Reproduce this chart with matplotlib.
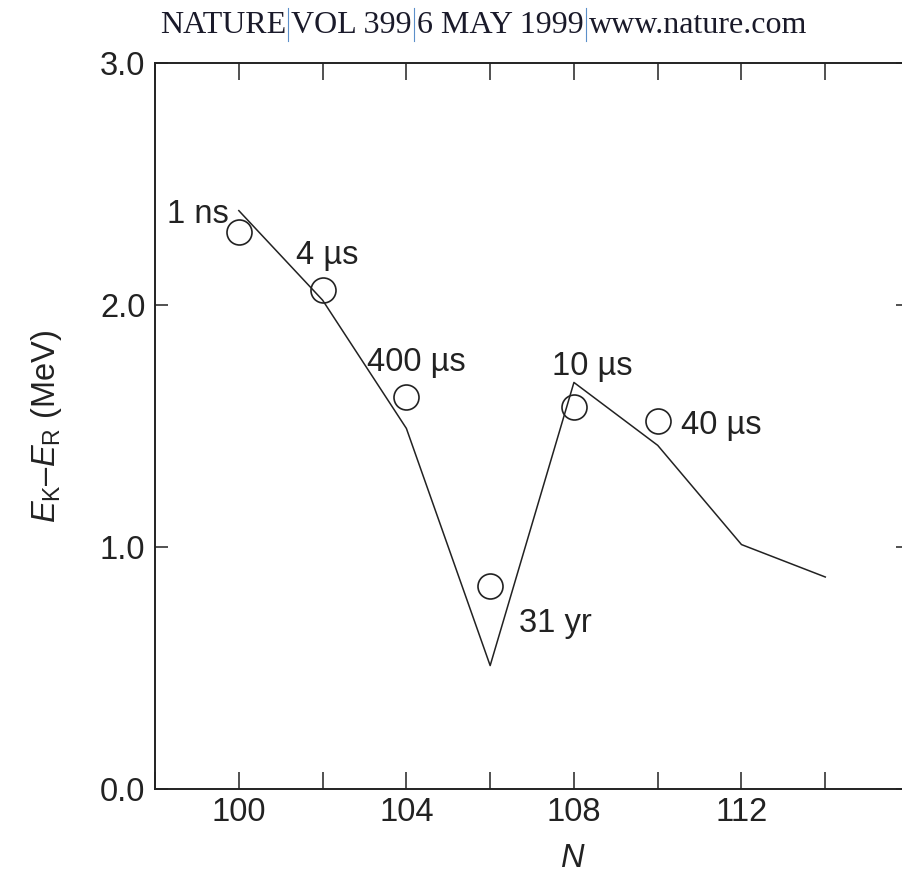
import matplotlib
matplotlib.use("Agg")
import matplotlib.pyplot as plt
from matplotlib.ticker import MultipleLocator, FormatStrFormatter

plt.rcParams['font.family'] = ['Liberation Sans', 'DejaVu Sans']
plt.rcParams['mathtext.fontset'] = 'custom'
plt.rcParams['mathtext.rm'] = 'Liberation Sans'
plt.rcParams['mathtext.it'] = 'Liberation Sans:italic'

# measured points (circles) and calculated curve
n_meas = [100, 102, 104, 106, 108, 110]
e_meas = [2.30, 2.06, 1.62, 0.84, 1.58, 1.52]
half_lives = ['1 ns', '4 µs', '400 µs', '31 yr', '10 µs', '40 µs']

n_calc = [100, 102, 104, 106, 108, 110, 112, 114]
e_calc = [2.39, 2.02, 1.49, 0.51, 1.68, 1.42, 1.01, 0.876]

# label offsets (points) of text baseline-left from each circle
label_offsets = [(-52, 7), (-19, 19), (-28, 19), (21, -33), (-16, 23), (17, -9)]

header_parts = ['NATURE', 'VOL 399', '6 MAY 1999', 'www.nature.com']

ink = '#222222'
fs = 23.5

fig = plt.figure(figsize=(9.03, 8.90), dpi=100)
ax = fig.add_axes([0.1717, 0.1135, 0.835, 0.8157])

ax.plot(n_calc, e_calc, color=ink, lw=1.1)
ax.plot(n_meas, e_meas, 'o', ms=18, mfc='none', mec=ink, mew=1.2)

for n, e, lab, off in zip(n_meas, e_meas, half_lives, label_offsets):
    ax.annotate(lab, (n, e), xytext=off, textcoords='offset points',
                fontsize=fs, color=ink, ha='left', va='baseline')

ax.set_xlim(98, 116)
ax.set_ylim(0, 3)
ax.xaxis.set_minor_locator(MultipleLocator(2))
ax.set_xticks([100, 104, 108, 112])
ax.yaxis.set_major_locator(MultipleLocator(1))
ax.yaxis.set_major_formatter(FormatStrFormatter('%.1f'))

ax.tick_params(axis='x', which='both', direction='in', length=12, width=1.1,
               top=True, labelsize=fs, colors=ink, pad=6)
ax.tick_params(axis='y', which='both', direction='in', length=9.5, width=1.1,
               right=True, labelsize=fs, colors=ink, pad=7)
for s in ax.spines.values():
    s.set_linewidth(1.4)
    s.set_color(ink)

ax.set_xlabel(r'$\mathit{N}$', fontsize=fs, color=ink)
ax.xaxis.set_label_coords(0.554, -0.074)
ax.set_ylabel(r'$\mathit{E}_\mathrm{K}$–$\mathit{E}_\mathrm{R}$ (MeV)',
              fontsize=fs, color=ink, labelpad=26)

# journal header, pieces separated by thin blue rules
renderer = fig.canvas.get_renderer()
x = 160
y_base = 890 - 33
for i, part in enumerate(header_parts):
    t = fig.text(x / 903, y_base / 890, part, family='Liberation Serif',
                 fontsize=23, color='#1a1a2a', ha='left', va='baseline')
    w = t.get_window_extent(renderer).width
    x += w + 2
    if i < len(header_parts) - 1:
        fig.add_artist(plt.Line2D([x / 903, x / 903], [(890 - 41) / 890, (890 - 8) / 890],
                                  transform=fig.transFigure, color='#5b8fc9', lw=0.8))
        x += 3

fig.savefig('out.png', dpi=100)
